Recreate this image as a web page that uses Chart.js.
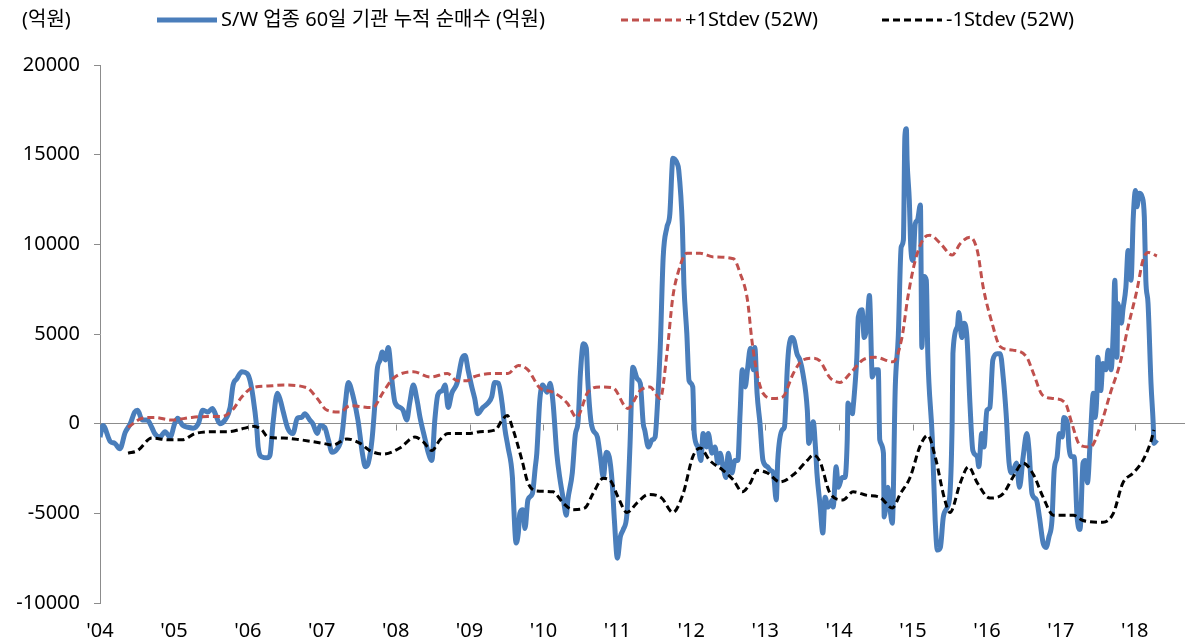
<!DOCTYPE html>
<html>
<head>
<meta charset="utf-8">
<script src="https://cdn.jsdelivr.net/npm/chart.js@4.4.0/dist/chart.umd.min.js"></script>
<style>
html, body { margin: 0; padding: 0; background: #fff; }
</style>
</head>
<body>
<canvas id="chart" width="1204" height="640"></canvas>
<script>
var unitLabel = '(억원)';
var seriesNames = ['S/W 업종 60일 기관 누적 순매수 (억원)', '+1Stdev (52W)', '-1Stdev (52W)'];

var tickYears = [2004, 2005, 2006, 2007, 2008, 2009, 2010, 2011, 2012, 2013, 2014, 2015, 2016, 2017, 2018];
var tickLabels = ["'04", "'05", "'06", "'07", "'08", "'09", "'10", "'11", "'12", "'13", "'14", "'15", "'16", "'17", "'18"];

// S/W 60일 기관 누적 순매수 (억원)
var flowYears = [
  2004.00, 2004.04, 2004.14, 2004.20, 2004.27, 2004.34, 2004.41, 2004.47, 2004.51, 2004.57, 2004.64, 2004.70, 2004.74, 2004.81, 2004.88, 2004.95,
  2005.01, 2005.05, 2005.12, 2005.19, 2005.26, 2005.33, 2005.39, 2005.46, 2005.52, 2005.56, 2005.62, 2005.69, 2005.76, 2005.80, 2005.85, 2005.92, 2005.99,
  2006.03, 2006.07, 2006.12, 2006.14, 2006.19, 2006.26, 2006.30, 2006.34, 2006.40, 2006.44, 2006.48, 2006.54, 2006.61, 2006.67, 2006.73, 2006.77, 2006.84, 2006.88, 2006.94, 2006.98,
  2007.04, 2007.09, 2007.14, 2007.21, 2007.27, 2007.32, 2007.36, 2007.42, 2007.49, 2007.55, 2007.59, 2007.63, 2007.68, 2007.72, 2007.75, 2007.79, 2007.82, 2007.86, 2007.90, 2007.95, 2007.99,
  2008.06, 2008.10, 2008.15, 2008.19, 2008.24, 2008.29, 2008.33, 2008.40, 2008.44, 2008.49, 2008.53, 2008.57, 2008.63, 2008.67, 2008.71, 2008.76, 2008.83, 2008.90, 2008.94, 2008.98,
  2009.03, 2009.07, 2009.11, 2009.18, 2009.25, 2009.30, 2009.34, 2009.39, 2009.44, 2009.48, 2009.52, 2009.58, 2009.59, 2009.63, 2009.66, 2009.68, 2009.72, 2009.75, 2009.79, 2009.85, 2009.89, 2009.91, 2009.95, 2009.99,
  2010.05, 2010.09, 2010.13, 2010.18, 2010.22, 2010.27, 2010.31, 2010.33, 2010.39, 2010.43, 2010.47, 2010.50, 2010.54, 2010.58, 2010.60, 2010.64, 2010.67, 2010.73, 2010.77, 2010.81, 2010.85, 2010.89, 2010.93, 2010.96,
  2011.00, 2011.04, 2011.08, 2011.13, 2011.17, 2011.21, 2011.27, 2011.31, 2011.35, 2011.37, 2011.42, 2011.47, 2011.51, 2011.54, 2011.58, 2011.62, 2011.67, 2011.71, 2011.74, 2011.75, 2011.81, 2011.83, 2011.88, 2011.90, 2011.94, 2011.97,
  2012.02, 2012.04, 2012.09, 2012.13, 2012.16, 2012.21, 2012.23, 2012.28, 2012.32, 2012.36, 2012.39, 2012.43, 2012.47, 2012.50, 2012.55, 2012.59, 2012.63, 2012.66, 2012.69, 2012.73, 2012.76, 2012.80, 2012.84, 2012.86, 2012.89, 2012.93, 2012.97,
  2013.03, 2013.07, 2013.11, 2013.15, 2013.17, 2013.23, 2013.26, 2013.30, 2013.32, 2013.36, 2013.39, 2013.43, 2013.47, 2013.51, 2013.57, 2013.59, 2013.65, 2013.68, 2013.70, 2013.74, 2013.78, 2013.81, 2013.85, 2013.91, 2013.92, 2013.96, 2013.99,
  2014.04, 2014.08, 2014.11, 2014.12, 2014.18, 2014.19, 2014.22, 2014.24, 2014.26, 2014.31, 2014.34, 2014.38, 2014.41, 2014.45, 2014.49, 2014.53, 2014.55, 2014.60, 2014.61, 2014.66, 2014.69, 2014.72, 2014.76, 2014.80, 2014.84, 2014.87, 2014.89, 2014.91, 2014.92, 2014.95, 2014.97,
  2015.00, 2015.03, 2015.06, 2015.10, 2015.12, 2015.15, 2015.18, 2015.20, 2015.26, 2015.30, 2015.33, 2015.37, 2015.41, 2015.46, 2015.50, 2015.53, 2015.54, 2015.60, 2015.62, 2015.66, 2015.69, 2015.73, 2015.77, 2015.81, 2015.87, 2015.89, 2015.93, 2015.96,
  2016.00, 2016.04, 2016.08, 2016.14, 2016.18, 2016.22, 2016.26, 2016.30, 2016.34, 2016.40, 2016.44, 2016.49, 2016.54, 2016.57, 2016.61, 2016.67, 2016.71, 2016.76, 2016.80, 2016.84, 2016.88, 2016.91, 2016.95, 2016.98,
  2017.02, 2017.04, 2017.09, 2017.11, 2017.15, 2017.18, 2017.22, 2017.26, 2017.30, 2017.33, 2017.36, 2017.40, 2017.44, 2017.46, 2017.49, 2017.50, 2017.54, 2017.57, 2017.61, 2017.64, 2017.68, 2017.71, 2017.73, 2017.76, 2017.77, 2017.82, 2017.84, 2017.88, 2017.91, 2017.95, 2017.98,
  2018.01, 2018.03, 2018.06, 2018.10, 2018.13, 2018.15, 2018.18, 2018.22, 2018.25, 2018.26, 2018.30
];
var flowValues = [
  -750, -100, -1000, -1100, -1400, -500, 0, 650, 750, 200, 200, -200, -550, -750, -450, -750,
  0, 300, -100, -200, -250, 0, 750, 650, 850, 550, 0, 200, 900, 2150, 2500, 2900, 2800,
  2400, 1500, -200, -1300, -1850, -1900, -1750, 0, 1700, 1300, 650, -250, -550, 300, 350, 550, 200, 0, -550, -100,
  -200, -900, -1600, -1400, -750, 1150, 2300, 1600, 200, -1650, -2400, -2200, -900, 1150, 3000, 3550, 4000, 3550, 4250, 2400, 1200,
  900, 750, 200, 1150, 2150, 1300, 350, -900, -1600, -2050, 200, 1600, 1850, 2150, 900, 1700, 2250, 3650, 3800, 3000,
  2050, 1400, 550, 900, 1150, 1500, 2300, 2250, 1150, -350, -1300, -3000, -3900, -6650, -6100, -5000, -4800, -5850, -4250, -3900, -2400, -1650, 1300, 2150,
  1750, 2250, 1150, -1650, -3000, -4250, -5100, -4250, -2750, -650, 200, 2800, 4450, 4200, 2400, 200, -350, -750, -1850, -3000, -1600, -1850, -3300, -5400,
  -7500, -6300, -5900, -5000, -1300, 3150, 2500, 2250, 0, -350, -1300, -900, -750, 900, 4250, 9300, 10950, 11700, 14300, 14800, 14500, 14150, 10950, 7800, 5000, 2400,
  2050, -550, -1300, -2050, -550, -1300, -550, -1650, -1300, -2200, -1650, -2400, -3000, -1650, -2750, -2050, -2050, 550, 3000, 2050, 3000, 4200, 3000, 4250, 1700, 0, -2050,
  -2400, -2600, -2750, -4250, -2050, -350, -200, 3150, 4250, 4800, 4650, 3900, 3550, 2800, 750, -1100, 100, -1300, -2750, -4450, -6100, -4100, -4650, -4250, -4650, -2400, -3550,
  -3000, -3000, -900, 1150, 550, 900, 2400, 3700, 5950, 6350, 4800, 5600, 7150, 2600, 3000, 3000, -900, -1650, -5200, -3550, -4800, -5550, 2050, 4800, 9850, 10250, 16000, 16450, 14700, 12450, 9850,
  9100, 11150, 11350, 12200, 4250, 8200, 8000, 3900, -750, -5400, -7050, -6900, -5200, -4700, -3900, 200, 3900, 5400, 6200, 4800, 5600, 4800, 1150, -1500, -1850, -2400, -550, -1300,
  750, 900, 3550, 3900, 3900, 2600, 550, -2200, -2750, -2200, -3550, -1850, -550, -1500, -3900, -4250, -5200, -6650, -6900, -6300, -5400, -2600, -1850, -550,
  -750, 350, 0, -1300, -1850, -1850, -5200, -5900, -2200, -2050, -3300, -750, 1700, 350, 1850, 3700, 1850, 3350, 3000, 4100, 3000, 5200, 8000, 3700, 6700, 5600, 6350, 7600, 9650, 8000, 11500,
  13000, 12100, 12850, 12650, 11500, 8000, 6700, 2250, 0, -1100, -900
];

// +1Stdev (52W)
var upperYears = [
  2004.38, 2004.57, 2004.74, 2004.97, 2005.24, 2005.46, 2005.65, 2005.79, 2005.92, 2006.06, 2006.27, 2006.50, 2006.80, 2006.94,
  2007.07, 2007.25, 2007.38, 2007.69, 2007.83, 2007.96, 2008.24, 2008.47, 2008.70, 2008.83, 2008.97, 2009.05, 2009.37, 2009.52,
  2009.66, 2009.79, 2009.95, 2010.13, 2010.32, 2010.45, 2010.60, 2010.77, 2010.94, 2011.14, 2011.31, 2011.44, 2011.58, 2011.67,
  2011.75, 2011.82, 2011.94, 2012.12, 2012.30, 2012.57, 2012.66, 2012.76, 2012.82, 2012.89, 2012.97, 2013.11, 2013.24, 2013.38,
  2013.51, 2013.65, 2013.74, 2013.88, 2014.01, 2014.15, 2014.32, 2014.49, 2014.73, 2014.85, 2014.93, 2015.03, 2015.14, 2015.23,
  2015.37, 2015.53, 2015.64, 2015.77, 2015.87, 2015.95, 2016.07, 2016.18, 2016.35, 2016.54, 2016.63, 2016.75, 2016.90, 2017.06,
  2017.15, 2017.26, 2017.40, 2017.53, 2017.67, 2017.80, 2017.91, 2018.03, 2018.11, 2018.18, 2018.30
];
var upperValues = [
  -200, 300, 350, 200, 350, 400, 400, 750, 1500, 2000, 2100, 2150, 2000, 1400,
  750, 650, 1000, 900, 1750, 2500, 2900, 2600, 2800, 2400, 2400, 2600, 2800, 2800,
  3250, 3000, 2000, 1750, 1150, 350, 1750, 2050, 2000, 850, 1850, 2050, 1400, 3900,
  7050, 8400, 9500, 9500, 9300, 9200, 8400, 6900, 4650, 2800, 1700, 1400, 1500, 2800,
  3550, 3650, 3500, 2550, 2300, 2800, 3550, 3700, 3450, 4800, 7050, 9100, 10300, 10500,
  10050, 9400, 10050, 10400, 9650, 7600, 5600, 4300, 4100, 3700, 2800, 1600, 1400, 1150,
  0, -1200, -1300, -200, 1700, 3350, 5400, 7450, 9100, 9550, 9350
];

// -1Stdev (52W)
var lowerYears = [
  2004.38, 2004.51, 2004.70, 2004.92, 2005.11, 2005.29, 2005.52, 2005.73, 2005.96, 2006.07, 2006.19, 2006.27, 2006.48, 2006.71,
  2007.02, 2007.15, 2007.34, 2007.52, 2007.65, 2007.83, 2008.06, 2008.26, 2008.37, 2008.49, 2008.60, 2008.71, 2008.98, 2009.14,
  2009.35, 2009.44, 2009.51, 2009.59, 2009.71, 2009.79, 2009.91, 2010.13, 2010.27, 2010.40, 2010.56, 2010.67, 2010.81, 2010.90,
  2011.01, 2011.13, 2011.27, 2011.42, 2011.60, 2011.75, 2011.89, 2012.02, 2012.12, 2012.25, 2012.43, 2012.57, 2012.69, 2012.80,
  2012.89, 2013.03, 2013.20, 2013.38, 2013.57, 2013.65, 2013.74, 2013.88, 2014.05, 2014.19, 2014.38, 2014.55, 2014.72, 2014.83,
  2014.96, 2015.10, 2015.20, 2015.30, 2015.43, 2015.50, 2015.64, 2015.75, 2015.87, 2016.04, 2016.22, 2016.35, 2016.49, 2016.63,
  2016.76, 2016.90, 2017.17, 2017.30, 2017.57, 2017.71, 2017.84, 2017.98, 2018.11, 2018.21, 2018.26
];
var lowerValues = [
  -1650, -1500, -800, -900, -900, -550, -450, -450, -250, -150, -350, -750, -800, -900,
  -1100, -1200, -850, -1100, -1500, -1700, -1350, -750, -1000, -1500, -900, -550, -550, -450,
  -350, 200, 450, -350, -2050, -3300, -3750, -3800, -4450, -4800, -4700, -3900, -3050, -3150,
  -4100, -4950, -4400, -3950, -4150, -4950, -3900, -1850, -1350, -2050, -2600, -3150, -3800, -3300,
  -2600, -2750, -3250, -2850, -2050, -1750, -2100, -3900, -4250, -3800, -4000, -4100, -4700, -3900,
  -3000, -1200, -650, -1850, -4250, -4950, -3300, -2400, -3300, -4150, -3900, -3000, -2200, -2850,
  -4100, -5100, -5100, -5400, -5500, -5000, -3300, -2750, -2050, -1100, -350
];

function toPoints(xs, ys) {
  var pts = [];
  for (let i = 0; i < xs.length; i++) {
    pts.push({x: xs[i], y: ys[i]});
  }
  return pts;
}

var FONT = '"Noto Sans", "Noto Sans CJK KR", sans-serif';
var AXIS_GRAY = '#8c8c8c';

// legend row and unit label along the top
var topLegend = {
  id: 'topLegend',
  afterDraw: function(chart) {
    const ctx = chart.ctx;
    const cy = 20;
    const starts = [157, 621, 882];
    ctx.save();
    ctx.font = '20px ' + FONT;
    ctx.fillStyle = '#000';
    ctx.textBaseline = 'middle';
    ctx.textAlign = 'left';
    ctx.fillText(unitLabel, 22, cy);
    chart.data.datasets.forEach(function(ds, i) {
      const x = starts[i];
      ctx.beginPath();
      ctx.setLineDash(ds.borderDash || []);
      ctx.lineWidth = ds.borderWidth;
      ctx.strokeStyle = ds.borderColor;
      ctx.moveTo(x, cy);
      ctx.lineTo(x + 60, cy);
      ctx.stroke();
      ctx.setLineDash([]);
      ctx.fillText(ds.label, x + 64, cy);
    });
    ctx.restore();
  }
};

// small tick marks hanging under the zero line at each year
var zeroTicks = {
  id: 'zeroTicks',
  beforeDatasetsDraw: function(chart) {
    const xs = chart.scales.x, ys = chart.scales.y, ctx = chart.ctx;
    const y0 = Math.round(ys.getPixelForValue(0)) + 0.5;
    ctx.save();
    ctx.strokeStyle = AXIS_GRAY;
    ctx.lineWidth = 1;
    tickYears.forEach(function(yr) {
      const px = Math.round(xs.getPixelForValue(yr)) + 0.5;
      ctx.beginPath();
      ctx.moveTo(px, y0);
      ctx.lineTo(px, y0 + 6);
      ctx.stroke();
    });
    ctx.restore();
  }
};

new Chart(document.getElementById('chart'), {
  type: 'line',
  data: {
    datasets: [{
      label: seriesNames[0],
      data: toPoints(flowYears, flowValues),
      borderColor: '#4a7ebb',
      borderWidth: 5,
      pointRadius: 0,
      cubicInterpolationMode: 'monotone',
      order: 3
    }, {
      label: seriesNames[1],
      data: toPoints(upperYears, upperValues),
      borderColor: '#c0504d',
      borderWidth: 3,
      borderDash: [7, 4],
      pointRadius: 0,
      cubicInterpolationMode: 'monotone',
      order: 2
    }, {
      label: seriesNames[2],
      data: toPoints(lowerYears, lowerValues),
      borderColor: '#000000',
      borderWidth: 3,
      borderDash: [7, 4],
      pointRadius: 0,
      cubicInterpolationMode: 'monotone',
      order: 1
    }]
  },
  options: {
    responsive: false,
    animation: false,
    devicePixelRatio: 1,
    layout: {
      padding: {top: 65, right: 19, bottom: 0, left: 0}
    },
    scales: {
      x: {
        type: 'linear',
        min: 2004,
        max: 2018.68,
        grid: {display: false, drawTicks: false},
        border: {display: false},
        afterBuildTicks: function(scale) {
          scale.ticks = tickYears.map(function(v) { return {value: v}; });
        },
        afterFit: function(scale) {
          scale.height = 37;
        },
        ticks: {
          autoSkip: false,
          maxRotation: 0,
          padding: 16,
          color: '#000',
          font: {family: FONT, size: 20},
          callback: function(value, index) {
            return tickLabels[index];
          }
        }
      },
      y: {
        min: -10000,
        max: 20000,
        grid: {
          color: function(c) {
            return (c.tick && c.tick.value === 0) ? AXIS_GRAY : 'rgba(0,0,0,0)';
          },
          tickColor: AXIS_GRAY,
          tickLength: 6,
          lineWidth: 1
        },
        border: {display: true, color: AXIS_GRAY, width: 1},
        afterFit: function(scale) {
          scale.width = 100;
        },
        ticks: {
          stepSize: 5000,
          padding: 14,
          color: '#000',
          font: {family: FONT, size: 20},
          callback: function(v) { return String(v); }
        }
      }
    },
    plugins: {
      legend: {display: false},
      tooltip: {enabled: false}
    }
  },
  plugins: [topLegend, zeroTicks]
});
</script>
</body>
</html>
